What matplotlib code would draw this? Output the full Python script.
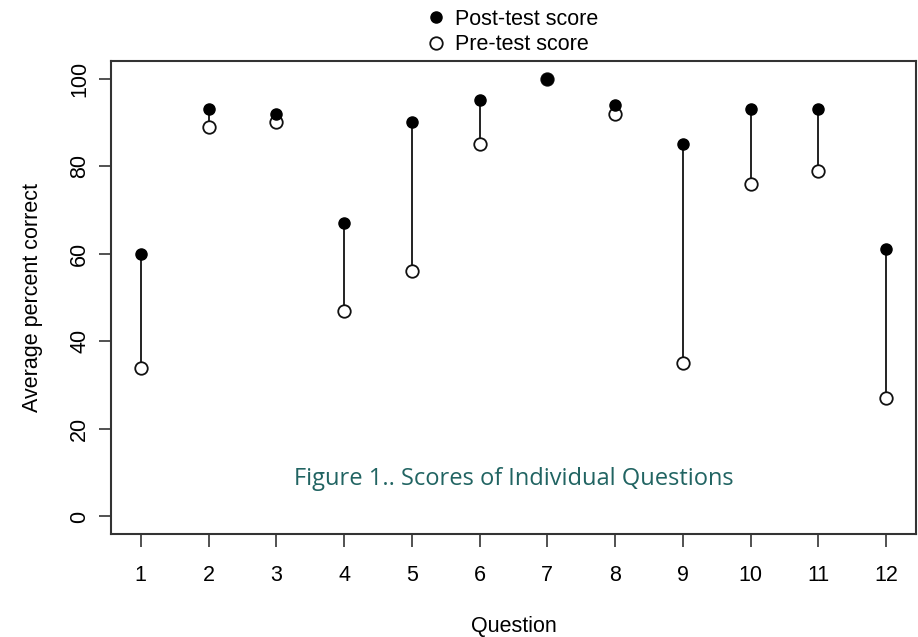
# Pre/post test scores per question

import numpy as np
import matplotlib.pyplot as plt

plt.rcParams['font.family'] = ['Liberation Sans', 'DejaVu Sans']

questions = [1, 2, 3, 4, 5, 6, 7, 8, 9, 10, 11, 12]
post = [60, 93, 92, 67, 90, 95, 100, 94, 85, 93, 93, 61]
pre = [34, 89, 90, 47, 56, 85, 100, 92, 35, 76, 79, 27]
yticks = [0, 20, 40, 60, 80, 100]

fig = plt.figure(figsize=(9.18, 6.37), dpi=100)
ax = fig.add_axes([0.1209, 0.1617, 0.8769, 0.7425])

ax.vlines(questions, pre, post, color='#222222', lw=1.4, zorder=1)
ax.plot(questions, pre, 'o', ms=9, mfc='white', mec='#111111', mew=1.3,
        ls='none', label='Pre-test score', zorder=2)
ax.plot(questions, post, 'o', ms=8, color='black', ls='none',
        label='Post-test score', zorder=3)

ax.set_xlim(0.56, 12.44)
ax.set_ylim(-4, 104)
ax.set_xticks(questions)
ax.set_yticks(yticks)
ax.tick_params(axis='both', length=9, width=1.2, color='#333333',
               labelsize=15.5, pad=13)
ax.tick_params(axis='y', pad=6)
for lbl in ax.get_yticklabels():
    lbl.set_rotation(90)
    lbl.set_va('center')
for s in ax.spines.values():
    s.set_linewidth(1.5)
    s.set_color('#333333')

ax.set_xlabel('Question', fontsize=15.5, labelpad=22)
ax.set_ylabel('Average percent correct', fontsize=15.5, labelpad=19)

h, l = ax.get_legend_handles_labels()
fig.legend(h[::-1], l[::-1], loc='upper left', bbox_to_anchor=(427 / 918, 1 - 9 / 637),
           frameon=False, fontsize=15.5, handlelength=0.8, handletextpad=0.5,
           labelspacing=0.2, borderpad=0, borderaxespad=0)

ax.text(0.5, 0.117, 'Figure 1.. Scores of Individual Questions', transform=ax.transAxes,
        ha='center', va='center', fontsize=17, color='#216462', family='Open Sans')

fig.savefig('out.png', dpi=100)
